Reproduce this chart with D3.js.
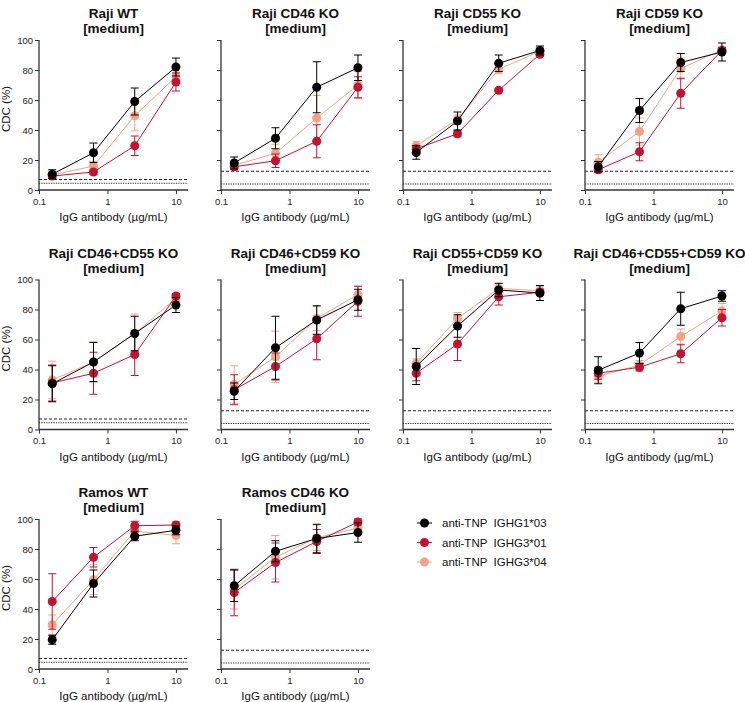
<!DOCTYPE html>
<html>
<head>
<meta charset="utf-8">
<script src="https://cdn.jsdelivr.net/npm/d3@7"></script>
<style>
  body { margin: 0; background: #fff; }
  svg { display: block; font-family: "Liberation Sans", Arial, sans-serif; }
</style>
</head>
<body>
<svg id="chart" width="745" height="702"></svg>
<script>
// ---------- DATA ----------
const concentrations = [0.156, 0.625, 2.5, 10];
const panelTitles = [
  "Raji WT", "Raji CD46 KO", "Raji CD55 KO", "Raji CD59 KO",
  "Raji CD46+CD55 KO", "Raji CD46+CD59 KO", "Raji CD55+CD59 KO", "Raji CD46+CD55+CD59 KO",
  "Ramos WT", "Ramos CD46 KO"
];
const subtitle = "[medium]";
const seriesNames = ["anti-TNP  IGHG1*03", "anti-TNP  IGHG3*01", "anti-TNP  IGHG3*04"];

// means per panel (IGHG1*03)
const meanG1_03 = [
  [10.5, 24.8, 59, 82],
  [18, 34.5, 68.5, 81.5],
  [25, 46, 84.5, 93],
  [15.5, 53, 85, 92],
  [30.5, 45, 64, 83],
  [25.5, 54.5, 73, 86.5],
  [42, 69, 93, 91],
  [39.5, 51, 80.5, 89],
  [19.5, 57, 88.5, 92.5],
  [55.5, 78.5, 87, 91]
];
const sdG1_03 = [
  [3, 6.5, 9, 6],
  [4, 7, 17, 8.5],
  [4.5, 6, 5.5, 3],
  [3.5, 8, 6, 6],
  [12, 13, 11.5, 5],
  [5.5, 21, 9.5, 7],
  [12, 7.5, 4.5, 5],
  [9, 7, 11, 3.5],
  [3, 9, 3, 3],
  [10.5, 7, 9.5, 6.5]
];
// IGHG3*01
const meanG3_01 = [
  [9.3, 12, 29.5, 72],
  [15.5, 19.5, 32.5, 68.5],
  [27.5, 37.5, 66.5, 90.5],
  [13.5, 25.5, 64.5, 93],
  [31, 37.5, 50, 89],
  [26.5, 42, 60.5, 85.5],
  [37.5, 57, 88.5, 91.5],
  [37.5, 41.5, 50.5, 74.5],
  [45, 74.5, 95.5, 96],
  [51, 71, 85, 98]
];
const sdG3_01 = [
  [1.5, 1.5, 6.5, 6],
  [2, 4.5, 11, 7],
  [2, 2, 1, 1.5],
  [2, 6, 10, 2],
  [12, 14, 14, 1.5],
  [10, 9, 14, 10],
  [5, 11, 5.5, 2],
  [4, 2.5, 6, 5.5],
  [18.5, 6.5, 3, 2],
  [15.5, 13, 8, 2]
];
// IGHG3*04
const meanG3_04 = [
  [10, 16, 49.5, 75.5],
  [16.5, 24.5, 48, 70],
  [29.5, 47, 80.5, 92.5],
  [18.5, 39, 81, 93.5],
  [33, 45, 64, 87.5],
  [30, 48.5, 74, 90],
  [44, 74, 94, 92.5],
  [35.5, 43, 62, 79],
  [29.5, 59.5, 92, 89],
  [53, 74.5, 87.5, 94]
];
const sdG3_04 = [
  [2, 3, 10, 3],
  [2, 6, 15, 9],
  [3, 3, 3, 2],
  [5, 9, 7, 2],
  [12.5, 13.5, 13, 2],
  [12.5, 17, 8, 5.5],
  [3, 4, 3, 3],
  [4, 3, 5, 5],
  [6.5, 10, 2, 5.5],
  [13, 14.5, 8.5, 3]
];
// reference (background) levels per panel: dashed and dotted
const dashedLevel = [7, 12.5, 12.5, 12.5, 7, 12.5, 12.5, 12.5, 7, 12.5];
const dottedLevel = [4.5, 4, 4, 4, 4.5, 4, 4, 4, 4.5, 4];

const yTicks = [0, 20, 40, 60, 80, 100];
const xTicks = [0.1, 1, 10];
const xTickLabels = ["0.1", "1", "10"];
const yLabel = "CDC (%)";
const xLabel = "IgG antibody (µg/mL)";

// ---------- LAYOUT ----------
const colors = ["#000000", "#c41230", "#f2a385"];
const drawOrder = [2, 1, 0];
const colX = [39, 221, 403, 585];
const rowY = [40, 279.5, 519];
const plotW = 149, plotH = 150;

const svg = d3.select("#chart");
const x = d3.scaleLog().domain([0.1, 15]).range([0, plotW]);
const y = d3.scaleLinear().domain([0, 100]).range([plotH, 0]);

const seriesMeans = [meanG1_03, meanG3_01, meanG3_04];
const seriesSd = [sdG1_03, sdG3_01, sdG3_04];

panelTitles.forEach((title, p) => {
  const col = p % 4, row = Math.floor(p / 4);
  const g = svg.append("g").attr("transform", `translate(${colX[col]},${rowY[row]})`);

  // titles
  g.append("text").attr("x", plotW / 2).attr("y", -22)
    .attr("text-anchor", "middle").attr("font-size", 13.5).attr("font-weight", "bold")
    .attr("fill", "#111").text(title);
  g.append("text").attr("x", plotW / 2).attr("y", -7)
    .attr("text-anchor", "middle").attr("font-size", 13.5).attr("font-weight", "bold")
    .attr("fill", "#111").text(subtitle);

  // reference lines
  g.append("line").attr("x1", 0).attr("x2", plotW)
    .attr("y1", y(dashedLevel[p])).attr("y2", y(dashedLevel[p]))
    .attr("stroke", "#222").attr("stroke-width", 1).attr("stroke-dasharray", "3,2");
  g.append("line").attr("x1", 0).attr("x2", plotW)
    .attr("y1", y(dottedLevel[p])).attr("y2", y(dottedLevel[p]))
    .attr("stroke", "#222").attr("stroke-width", 1.2).attr("stroke-dasharray", "1.2,1.2");

  // axes
  const yAxis = d3.axisLeft(y).tickValues(yTicks).tickSize(4).tickPadding(2)
    .tickFormat(col === 0 ? d3.format("d") : () => "");
  const ya = g.append("g").call(yAxis);
  const xAxis = d3.axisBottom(x).tickValues(xTicks).tickSize(4).tickPadding(4)
    .tickFormat((d, i) => xTickLabels[i]);
  const xa = g.append("g").attr("transform", `translate(0,${plotH})`).call(xAxis);
  [ya, xa].forEach(a => {
    a.select(".domain").attr("stroke", "#333").attr("stroke-width", 1.3);
    a.selectAll(".tick line").attr("stroke", "#333").attr("stroke-width", 1);
    a.selectAll(".tick text").attr("font-size", 9.5).attr("fill", "#222")
      .attr("font-family", "Liberation Sans, Arial, sans-serif");
  });
  ya.select(".domain").attr("d", `M0,${plotH}V0`);
  xa.select(".domain").attr("d", `M0,0H${plotW}`);

  // axis labels
  g.append("text").attr("x", plotW / 2).attr("y", plotH + 31)
    .attr("text-anchor", "middle").attr("font-size", 11.5).attr("fill", "#111").text(xLabel);
  if (col === 0) {
    g.append("text").attr("transform", `translate(${-29},${plotH / 2 - 6}) rotate(-90)`)
      .attr("text-anchor", "middle").attr("font-size", 11.5).attr("fill", "#111").text(yLabel);
  }

  // series
  drawOrder.forEach(s => {
    const means = seriesMeans[s][p], sds = seriesSd[s][p];
    const pts = concentrations.map((c, i) => ({ c, m: means[i], sd: sds[i] }));
    const sg = g.append("g");
    // error bars
    pts.forEach(d => {
      const top = y(Math.min(100, d.m + d.sd)), bot = y(Math.max(0, d.m - d.sd));
      sg.append("line").attr("x1", x(d.c)).attr("x2", x(d.c)).attr("y1", top).attr("y2", bot)
        .attr("stroke", colors[s]).attr("stroke-width", 1);
      [top, bot].forEach(yy => sg.append("line")
        .attr("x1", x(d.c) - 4).attr("x2", x(d.c) + 4).attr("y1", yy).attr("y2", yy)
        .attr("stroke", colors[s]).attr("stroke-width", 1));
    });
    sg.append("path").datum(pts)
      .attr("d", d3.line().x(d => x(d.c)).y(d => y(d.m)))
      .attr("fill", "none").attr("stroke", colors[s]).attr("stroke-width", 1);
    sg.selectAll("circle").data(pts).join("circle")
      .attr("cx", d => x(d.c)).attr("cy", d => y(d.m)).attr("r", 4.5)
      .attr("fill", colors[s]);
  });
});

// ---------- LEGEND ----------
const legend = svg.append("g").attr("transform", "translate(417,523)");
seriesNames.forEach((name, i) => {
  const lg = legend.append("g").attr("transform", `translate(0,${i * 19.5})`);
  lg.append("line").attr("x1", 0).attr("x2", 15).attr("y1", 0).attr("y2", 0)
    .attr("stroke", colors[i]).attr("stroke-width", 1);
  lg.append("circle").attr("cx", 7.5).attr("cy", 0).attr("r", 4.5).attr("fill", colors[i]);
  lg.append("text").attr("x", 25).attr("y", 4).attr("font-size", 11.5).attr("fill", "#111")
    .attr("xml:space", "preserve").style("white-space", "pre").text(name);
});
</script>
</body>
</html>
